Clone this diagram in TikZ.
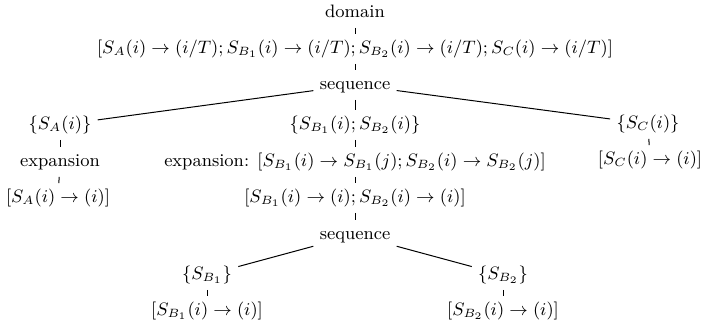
\documentclass[tikz,border=0pt]{standalone}
\usepackage{amsmath}
\begin{document}
\begin{tikzpicture}[x=0.5pt,y=-0.5pt,
  every node/.style={font=\fontsize{9}{11}\selectfont, inner xsep=3pt, inner ysep=2.5pt,
    text height=7pt, text depth=2.5pt},
  edge/.style={draw, line width=0.5pt}]
\useasboundingbox (0,0) rectangle (705,330);
\node (dom) at (355,13) {domain};
\node (all) at (355,49) {$[S_A(i)\to(i/T); S_{B_1}(i)\to(i/T); S_{B_2}(i)\to(i/T); S_C(i)\to(i/T)]$};
\node (seqa) at (355,85) {sequence};
\node (a) at (60,125) {$\{S_A(i)\}$};
\node (b) at (355,125) {$\{S_{B_1}(i); S_{B_2}(i)\}$};
\node (c) at (648,124) {$\{S_C(i)\}$};
\node (aexp) at (60,162) {expansion};
\node (bexp) at (355,162) {expansion: $[S_{B_1}(i)\to S_{B_1}(j); S_{B_2}(i)\to S_{B_2}(j)]$};
\node (cres) at (650,160) {$[S_C(i)\to(i)]$};
\node (ares) at (58,198) {$[S_A(i)\to(i)]$};
\node (bres) at (355,198) {$[S_{B_1}(i)\to(i); S_{B_2}(i)\to(i)]$};
\node (seqb) at (355,235) {sequence};
\node (b1) at (207,275) {$\{S_{B_1}\}$};
\node (b2) at (503,275) {$\{S_{B_2}\}$};
\node (b1r) at (207,311) {$[S_{B_1}(i)\to(i)]$};
\node (b2r) at (503,311) {$[S_{B_2}(i)\to(i)]$};
\path[edge] (dom) -- (all);
\path[edge] (all) -- (seqa);
\path[edge] (seqa) -- (a);
\path[edge] (seqa) -- (b);
\path[edge] (seqa) -- (c);
\path[edge] (a) -- (aexp);
\path[edge] (aexp) -- (ares);
\path[edge] (b) -- (bexp);
\path[edge] (bexp) -- (bres);
\path[edge] (bres) -- (seqb);
\path[edge] (c) -- (cres);
\path[edge] (seqb) -- (b1);
\path[edge] (seqb) -- (b2);
\path[edge] (b1) -- (b1r);
\path[edge] (b2) -- (b2r);
\end{tikzpicture}
\end{document}
